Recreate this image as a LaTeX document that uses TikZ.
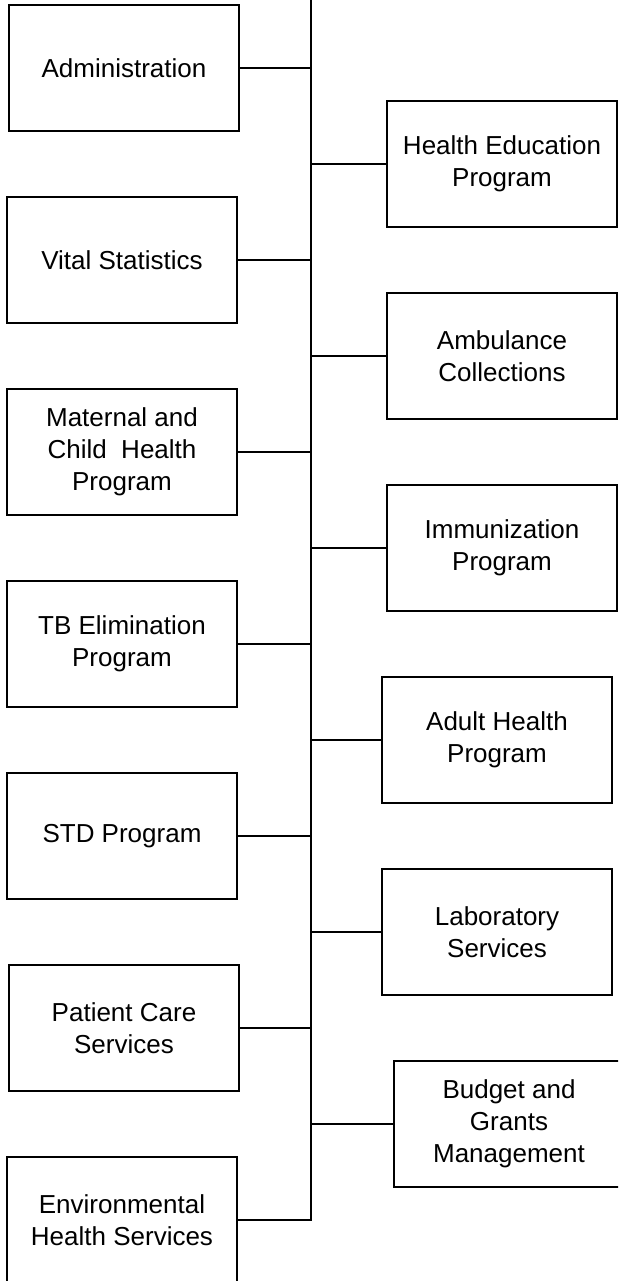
\documentclass[tikz,border=0pt]{standalone}
\usepackage{fontspec}
\setmainfont{Liberation Sans}
\begin{document}
\begin{tikzpicture}[x=1pt,y=-1pt,
  unit/.style={draw=black,line width=2pt,fill=white,rectangle,
    minimum width=230pt,minimum height=126pt,inner sep=0pt,
    align=center,font=\fontsize{26}{32}\selectfont},
  link/.style={draw=black,line width=2pt}]
\useasboundingbox (0,0) rectangle (618,1281);
\clip (0,0) rectangle (618,1281);

% vertical spine
\coordinate (top) at (311,-5);
\coordinate (bot) at (311,1221);
\draw[link] (top) -- (bot);

% left column
\node[unit] (admin)    at (124,68)   {Administration};
\node[unit] (vital)    at (122,260)  {Vital Statistics};
\node[unit] (maternal) at (122,452)  {Maternal and\\Child~~Health\\Program};
\node[unit] (tb)       at (122,644)  {TB Elimination\\Program};
\node[unit] (std)      at (122,836)  {STD Program};
\node[unit] (patient)  at (124,1028) {Patient Care\\Services};
\node[unit] (env)      at (122,1220) {Environmental\\Health Services};

% right column
\node[unit] (healthed) at (502,164)  {Health Education\\Program};
\node[unit] (ambul)    at (502,356)  {Ambulance\\Collections};
\node[unit] (immun)    at (502,548)  {Immunization\\Program};
\node[unit] (adult)    at (497,740)  {Adult Health\\Program};
\node[unit] (lab)      at (497,932)  {Laboratory\\Services};
\node[unit] (budget)   at (509,1124) {Budget and\\Grants\\Management};

% branches to the spine
\foreach \n in {admin,vital,maternal,tb,std,patient,env}
  \draw[link] (\n.east) -- (\n.east -| top);
\foreach \n in {healthed,ambul,immun,adult,lab,budget}
  \draw[link] (\n.west) -- (\n.west -| top);
\end{tikzpicture}
\end{document}
